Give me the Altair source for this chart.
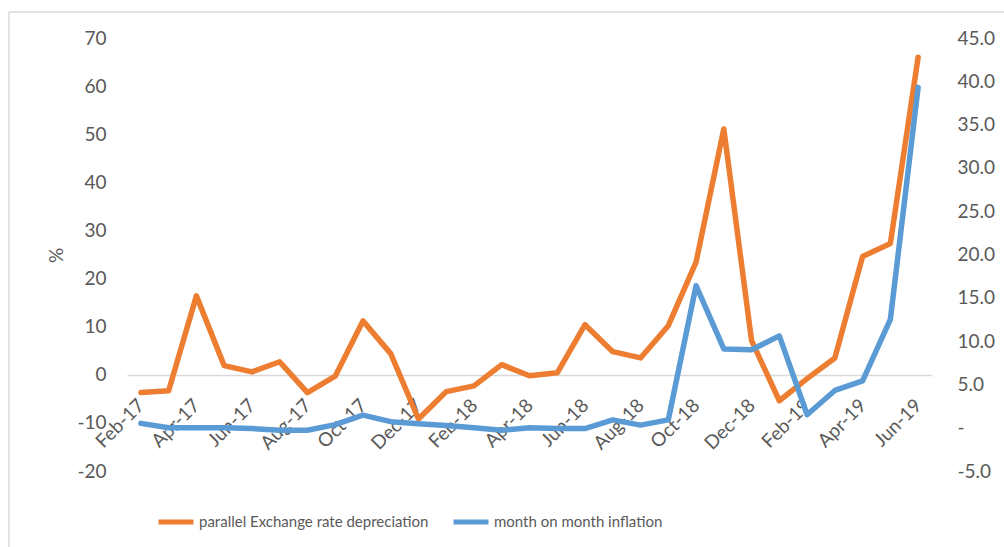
import altair as alt
import pandas as pd

months = [
    "Feb-17", "Mar-17", "Apr-17", "May-17", "Jun-17", "Jul-17", "Aug-17", "Sep-17",
    "Oct-17", "Nov-17", "Dec-17", "Jan-18", "Feb-18", "Mar-18", "Apr-18", "May-18",
    "Jun-18", "Jul-18", "Aug-18", "Sep-18", "Oct-18", "Nov-18", "Dec-18", "Jan-19",
    "Feb-19", "Mar-19", "Apr-19", "May-19", "Jun-19",
]
fx_depreciation = [
    -3.7, -3.3, 16.4, 1.9, 0.6, 2.7, -3.7, -0.3, 11.2, 4.4, -9.2, -3.5, -2.3, 2.1,
    -0.2, 0.4, 10.4, 4.8, 3.5, 10.2, 23.4, 51.1, 7.1, -5.4, -0.8, 3.5, 24.6, 27.3, 66.0,
]
mom_inflation = [
    0.5, 0.0, 0.0, 0.0, -0.1, -0.3, -0.3, 0.35, 1.45, 0.7, 0.45, 0.25, 0.0, -0.3,
    0.0, -0.1, -0.1, 0.9, 0.3, 0.9, 16.4, 9.1, 9.0, 10.6, 1.5, 4.3, 5.4, 12.5, 39.3,
]
tick_months = months[::2]
left_ticks = list(range(-20, 80, 10))
right_ticks = list(range(-5, 50, 5))

SERIES_FX = "parallel Exchange rate depreciation"
SERIES_INF = "month on month inflation"
ORANGE = "#ED7D31"
BLUE = "#5B9BD5"
GREY_TEXT = "#595959"
GREY_LINE = "#D9D9D9"
FONT = "Lato"

df = pd.DataFrame({
    "month": months * 2,
    "series": [SERIES_FX] * len(months) + [SERIES_INF] * len(months),
    "value": fx_depreciation + mom_inflation,
})

W, H = 805, 433

x_enc = alt.X(
    "month:N",
    sort=months,
    scale=alt.Scale(type="point", padding=0.5),
    axis=alt.Axis(
        values=tick_months,
        labelAngle=-45,
        labelAlign="right",
        labelBaseline="middle",
        offset=-96,
        domainColor=GREY_LINE,
        domainWidth=1.5,
        ticks=False,
        labelPadding=27,
        title=None,
    ),
)

color_enc = alt.Color(
    "series:N",
    scale=alt.Scale(domain=[SERIES_FX, SERIES_INF], range=[ORANGE, BLUE]),
    legend=alt.Legend(
        title=None,
        orient="none",
        legendX=29,
        legendY=464,
        direction="horizontal",
        symbolType="stroke",
        symbolSize=1225,
        symbolStrokeWidth=5,
        labelFont=FONT,
        labelFontSize=15,
        labelColor=GREY_TEXT,
        labelOffset=3,
        columnPadding=14,
        labelLimit=400,
    ),
)

base = alt.Chart(df)

fx_line = base.transform_filter(alt.datum.series == SERIES_FX).mark_line(
    strokeWidth=5.5, strokeCap="round", strokeJoin="round"
).encode(
    x=x_enc,
    y=alt.Y(
        "value:Q",
        scale=alt.Scale(domain=[-20, 70], nice=False, zero=False),
        axis=alt.Axis(
            values=left_ticks,
            labelExpr="datum.value < 0 ? '-' + abs(datum.value) : '' + datum.value",
            grid=False,
            domain=False,
            ticks=False,
            labelPadding=21,
            title="%",
            titleX=-71,
            titleY=217,
            titleAngle=-90,
            titleAlign="center",
            titleBaseline="middle",
        ),
    ),
    color=color_enc,
)

inf_line = base.transform_filter(alt.datum.series == SERIES_INF).mark_line(
    strokeWidth=5.5, strokeCap="round", strokeJoin="round"
).encode(
    x=x_enc,
    y=alt.Y(
        "value:Q",
        scale=alt.Scale(domain=[-5, 45], nice=False, zero=False),
        axis=alt.Axis(
            orient="right",
            values=right_ticks,
            labelExpr=(
                "datum.value == 0 ? '-' : (datum.value < 0 ? '-' + "
                "format(abs(datum.value), '.1f') : format(datum.value, '.1f'))"
            ),
            grid=False,
            domain=False,
            ticks=False,
            labelAlign="left",
            labelPadding=25,
            title=None,
        ),
    ),
    color=color_enc,
)

frame = pd.DataFrame({"k": [0]})
frame_top = alt.Chart(frame).mark_rule(color=GREY_LINE, strokeWidth=1.5).encode(
    x=alt.value(-118), x2=alt.value(877), y=alt.value(-26)
)
frame_left = alt.Chart(frame).mark_rule(color=GREY_LINE, strokeWidth=1.5).encode(
    x=alt.value(-118), y=alt.value(-26), y2=alt.value(509)
)

chart = (
    alt.layer(fx_line, inf_line, frame_top, frame_left)
    .resolve_scale(y="independent")
    .properties(
        width=W,
        height=H,
        autosize=alt.AutoSizeParams(type="none"),
        padding={"left": 127, "top": 38, "right": 72, "bottom": 76},
    )
    .configure_view(stroke=None)
    .configure_axis(
        labelFont=FONT,
        labelFontSize=19,
        labelColor=GREY_TEXT,
        titleFont=FONT,
        titleFontSize=19,
        titleColor=GREY_TEXT,
        titleFontWeight="normal",
    )
)

chart.save("out.html", embed_options={"renderer": "svg", "actions": False})
